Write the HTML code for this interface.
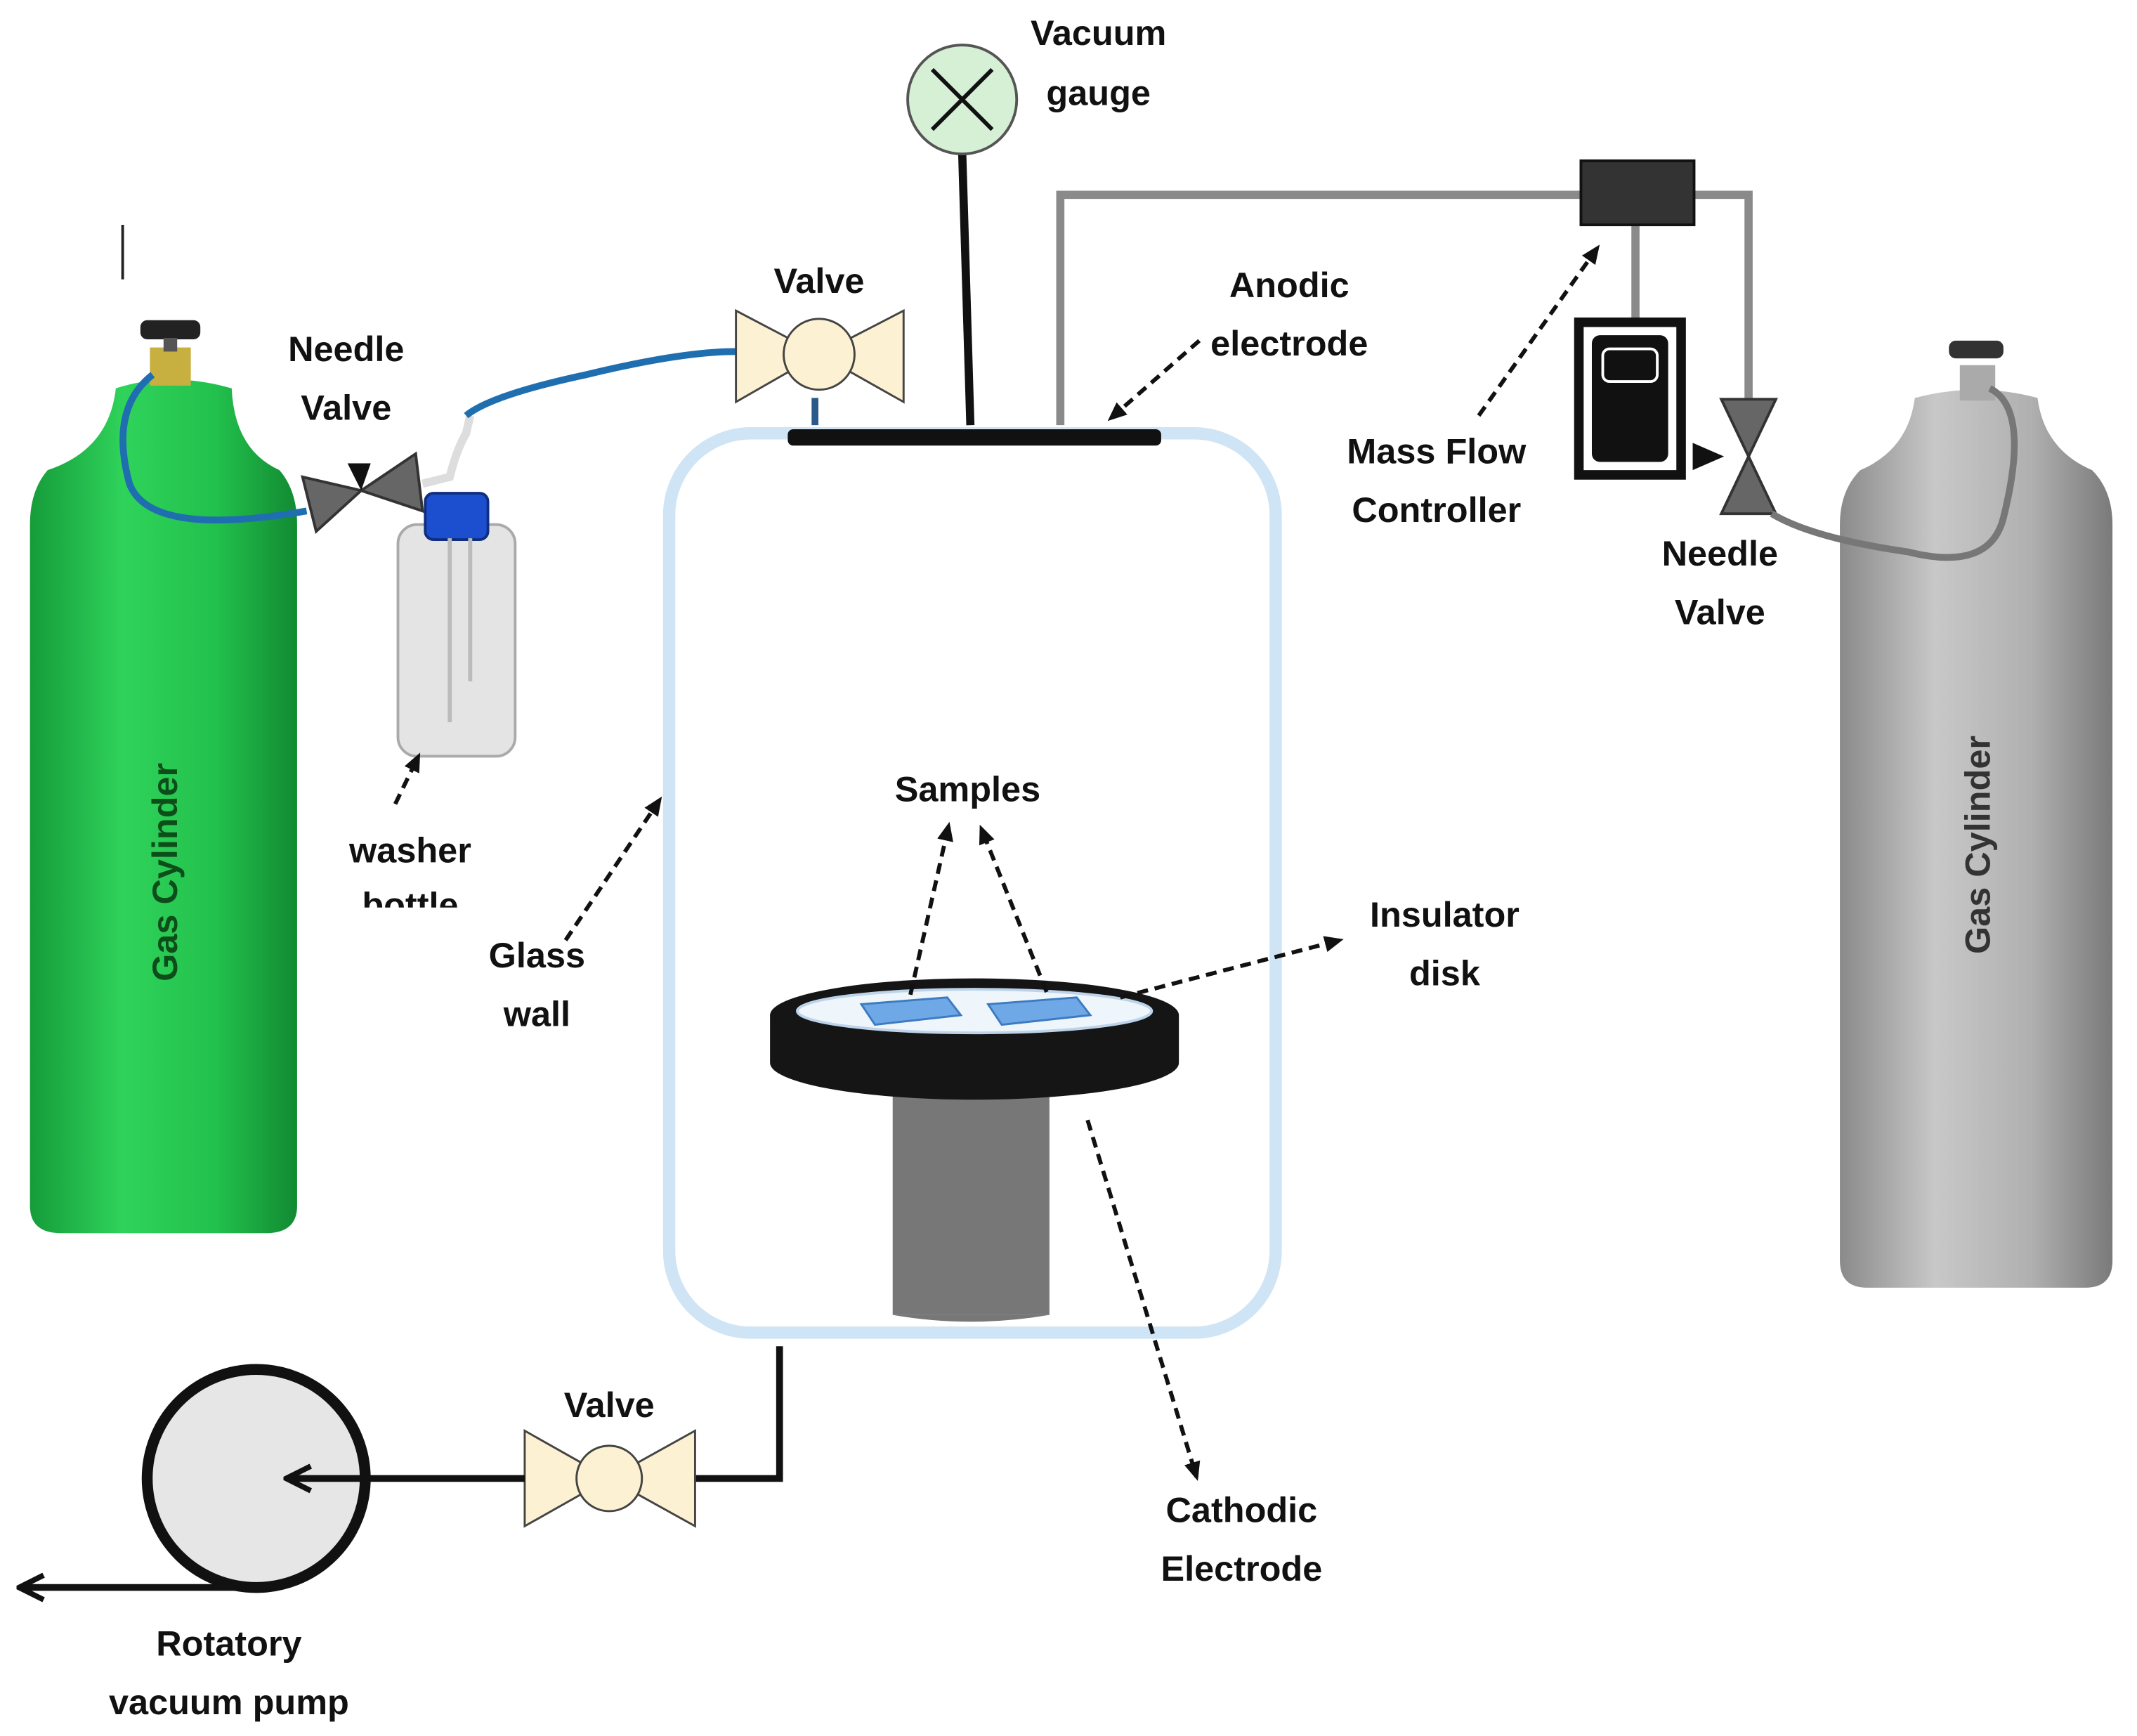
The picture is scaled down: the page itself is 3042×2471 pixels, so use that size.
<!DOCTYPE html>
<html><head><meta charset="utf-8"><style>
html,body{margin:0;padding:0;background:#fff;}
svg{display:block;}
text{font-family:"Liberation Sans",Arial,sans-serif;font-weight:bold;font-size:26px;fill:#111;}
</style></head><body>
<svg width="3042" height="2471" viewBox="0 0 1568 1274" preserveAspectRatio="none" xmlns="http://www.w3.org/2000/svg">
<defs>
<linearGradient id="g" x1="0" x2="1" y1="0" y2="0">
<stop offset="0" stop-color="#169c3a"/><stop offset="0.35" stop-color="#2fd35a"/><stop offset="0.7" stop-color="#22c04c"/><stop offset="1" stop-color="#128a32"/></linearGradient>
<linearGradient id="gr" x1="0" x2="1" y1="0" y2="0">
<stop offset="0" stop-color="#8a8a8a"/><stop offset="0.35" stop-color="#c8c8c8"/><stop offset="0.7" stop-color="#b0b0b0"/><stop offset="1" stop-color="#7a7a7a"/></linearGradient>
<marker id="ah" markerWidth="14" markerHeight="14" refX="11" refY="7" orient="auto" markerUnits="userSpaceOnUse" viewBox="0 0 14 14"><path d="M0,1 L14,7 L0,13 z" fill="#111"/></marker>
<marker id="ahb" markerWidth="22" markerHeight="22" refX="18" refY="11" orient="auto" markerUnits="userSpaceOnUse"><path d="M2,2 L20,11 L2,20" fill="none" stroke="#111" stroke-width="4"/></marker>
</defs>

<line x1="90" y1="165" x2="90" y2="205" stroke="#222" stroke-width="2"/>

<path d="M85,285 Q125,272 170,285 Q172,330 205,345 Q218,360 218,385 L218,885 Q218,905 195,905 L45,905 Q22,905 22,885 L22,385 Q22,360 35,345 Q80,330 85,285 z" fill="url(#g)"/>
<rect x="110" y="255" width="30" height="28" fill="#c8b040"/>
<rect x="103" y="235" width="44" height="14" rx="5" fill="#222"/>
<rect x="120" y="248" width="10" height="10" fill="#555"/>
<text transform="translate(130,640) rotate(-90)" text-anchor="middle" style="fill:#0d4d1a;font-size:26px">Gas Cylinder</text>

<path d="M112,275 Q80,300 95,355 Q110,395 225,375" fill="none" stroke="#1f6fb0" stroke-width="5"/>
<path d="M310,355 L330,350 Q335,330 342,318 L345,305" fill="none" stroke="#ddd" stroke-width="6"/>
<path d="M342,305 Q360,290 430,275 Q500,258 540,258" fill="none" stroke="#1f6fb0" stroke-width="5"/>

<path d="M222,350 L265,360 L232,390 z" fill="#666" stroke="#333" stroke-width="2"/>
<path d="M265,360 L305,333 L310,375 z" fill="#666" stroke="#333" stroke-width="2"/>
<path d="M255,340 L265,360 L272,340 z" fill="#111"/>

<rect x="292" y="385" width="86" height="170" rx="14" fill="#e4e4e4" stroke="#aaa" stroke-width="2"/>
<rect x="312" y="362" width="46" height="34" rx="6" fill="#1b4fd0" stroke="#102e80" stroke-width="2"/>
<line x1="330" y1="395" x2="330" y2="530" stroke="#bbb" stroke-width="3"/>
<line x1="345" y1="395" x2="345" y2="500" stroke="#bbb" stroke-width="3"/>

<line x1="598" y1="292" x2="598" y2="312" stroke="#2a5a8a" stroke-width="5"/>
<path d="M540,228 L601,260 L540,295 z" fill="#fdf1d3" stroke="#444" stroke-width="1.5"/>
<path d="M663,228 L601,260 L663,295 z" fill="#fdf1d3" stroke="#444" stroke-width="1.5"/>
<circle cx="601" cy="260" r="26" fill="#fdf1d3" stroke="#444" stroke-width="1.5"/>
<text x="601" y="215" text-anchor="middle">Valve</text>

<line x1="706" y1="112" x2="712" y2="312" stroke="#111" stroke-width="6"/>
<circle cx="706" cy="73" r="40" fill="#d6f0d6" stroke="#555" stroke-width="2"/>
<line x1="684" y1="51" x2="728" y2="95" stroke="#111" stroke-width="3"/>
<line x1="728" y1="51" x2="684" y2="95" stroke="#111" stroke-width="3"/>
<text x="806" y="33" text-anchor="middle">Vacuum</text>
<text x="806" y="77" text-anchor="middle">gauge</text>

<path d="M778,312 L778,143 L1160,143" fill="none" stroke="#8a8a8a" stroke-width="6"/>
<path d="M1243,143 L1283,143 L1283,300" fill="none" stroke="#8a8a8a" stroke-width="6"/>
<line x1="1200" y1="165" x2="1200" y2="235" stroke="#8a8a8a" stroke-width="6"/>
<rect x="1160" y="118" width="83" height="47" fill="#333" stroke="#111" stroke-width="2"/>
<rect x="1155" y="233" width="82" height="119" fill="#111"/>
<rect x="1162" y="240" width="68" height="105" fill="#fff"/>
<rect x="1168" y="246" width="56" height="93" rx="6" fill="#111"/>
<rect x="1176" y="256" width="40" height="24" rx="5" fill="none" stroke="#fff" stroke-width="2"/>

<path d="M1263,293 L1303,293 L1283,335 z" fill="#666" stroke="#333" stroke-width="2"/>
<path d="M1263,377 L1303,377 L1283,335 z" fill="#666" stroke="#333" stroke-width="2"/>
<path d="M1242,325 L1265,335 L1242,345 z" fill="#111"/>

<path d="M1405,292 Q1450,280 1495,292 Q1500,330 1535,345 Q1550,360 1550,385 L1550,925 Q1550,945 1530,945 L1370,945 Q1350,945 1350,925 L1350,385 Q1350,360 1365,345 Q1400,330 1405,292 z" fill="url(#gr)"/>
<rect x="1438" y="268" width="26" height="26" fill="#aaa"/>
<rect x="1430" y="250" width="40" height="13" rx="5" fill="#333"/>
<path d="M1460,285 Q1490,300 1470,380 Q1460,420 1400,405 Q1330,395 1300,377" fill="none" stroke="#777" stroke-width="5"/>
<text transform="translate(1460,620) rotate(-90)" text-anchor="middle" style="fill:#333">Gas Cylinder</text>

<rect x="491" y="318" width="445" height="660" rx="60" fill="none" stroke="#cfe4f5" stroke-width="9"/>
<rect x="578" y="315" width="274" height="12" rx="4" fill="#111"/>

<rect x="655" y="790" width="115" height="175" fill="#777"/>
<path d="M655,965 Q712,975 770,965" fill="#777"/>
<path d="M565,745 L565,780 A150,27 0 0 0 865,780 L865,745 z" fill="#151515"/>
<ellipse cx="715" cy="745" rx="150" ry="27" fill="#151515"/>
<ellipse cx="715" cy="742" rx="130" ry="16" fill="#eef5fb" stroke="#bcd3ea" stroke-width="2"/>
<path d="M632,737 L695,732 L705,745 L642,752 z" fill="#6fa8e6" stroke="#3d7bc0" stroke-width="1.5"/>
<path d="M725,737 L790,732 L800,745 L735,752 z" fill="#6fa8e6" stroke="#3d7bc0" stroke-width="1.5"/>

<path d="M572,988 L572,1085 L510,1085" fill="none" stroke="#111" stroke-width="5"/>
<path d="M385,1050 L447,1085 L385,1120 z" fill="#fdf1d3" stroke="#444" stroke-width="1.5"/>
<path d="M510,1050 L447,1085 L510,1120 z" fill="#fdf1d3" stroke="#444" stroke-width="1.5"/>
<circle cx="447" cy="1085" r="24" fill="#fdf1d3" stroke="#444" stroke-width="1.5"/>
<text x="447" y="1040" text-anchor="middle">Valve</text>
<circle cx="188" cy="1085" r="80" fill="#e6e6e6" stroke="#111" stroke-width="8"/>
<line x1="385" y1="1085" x2="212" y2="1085" stroke="#111" stroke-width="5" marker-end="url(#ahb)"/>
<line x1="190" y1="1165" x2="16" y2="1165" stroke="#111" stroke-width="5" marker-end="url(#ahb)"/>
<text x="168" y="1215" text-anchor="middle">Rotatory</text>
<text x="168" y="1258" text-anchor="middle">vacuum pump</text>

<g stroke="#111" stroke-width="3" stroke-dasharray="8,5" fill="none">
<line x1="880" y1="250" x2="815" y2="307" marker-end="url(#ah)"/>
<line x1="1085" y1="305" x2="1172" y2="182" marker-end="url(#ah)"/>
<line x1="290" y1="590" x2="307" y2="555" marker-end="url(#ah)"/>
<line x1="415" y1="690" x2="484" y2="587" marker-end="url(#ah)"/>
<line x1="668" y1="730" x2="696" y2="606" marker-end="url(#ah)"/>
<line x1="768" y1="728" x2="720" y2="608" marker-end="url(#ah)"/>
<line x1="822" y1="732" x2="983" y2="690" marker-end="url(#ah)"/>
<line x1="798" y1="822" x2="878" y2="1084" marker-end="url(#ah)"/>
</g>

<text x="254" y="265" text-anchor="middle">Needle</text>
<text x="254" y="308" text-anchor="middle">Valve</text>
<text x="946" y="218" text-anchor="middle">Anodic</text>
<text x="946" y="261" text-anchor="middle">electrode</text>
<text x="1054" y="340" text-anchor="middle">Mass Flow</text>
<text x="1054" y="383" text-anchor="middle">Controller</text>
<text x="1262" y="415" text-anchor="middle">Needle</text>
<text x="1262" y="458" text-anchor="middle">Valve</text>
<text x="301" y="633" text-anchor="middle">washer</text>
<text x="301" y="673" text-anchor="middle">bottle</text>
<rect x="240" y="666" width="130" height="20" fill="#fff"/>
<text x="394" y="710" text-anchor="middle">Glass</text>
<text x="394" y="753" text-anchor="middle">wall</text>
<text x="710" y="588" text-anchor="middle">Samples</text>
<text x="1060" y="680" text-anchor="middle">Insulator</text>
<text x="1060" y="723" text-anchor="middle">disk</text>
<text x="911" y="1117" text-anchor="middle">Cathodic</text>
<text x="911" y="1160" text-anchor="middle">Electrode</text>
</svg>
</body></html>
